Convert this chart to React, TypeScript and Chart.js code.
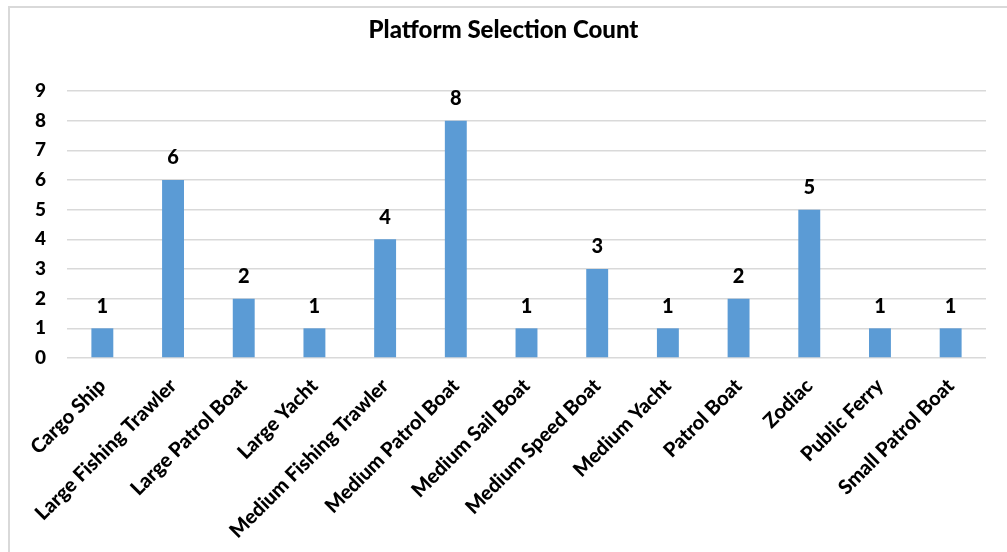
import React, { useEffect, useRef } from "react";
import { Chart, registerables } from "chart.js";

Chart.register(...registerables);

const categories = [
  "Cargo Ship",
  "Large Fishing Trawler",
  "Large Patrol Boat",
  "Large Yacht",
  "Medium Fishing Trawler",
  "Medium Patrol Boat",
  "Medium Sail Boat",
  "Medium Speed Boat",
  "Medium Yacht",
  "Patrol Boat",
  "Zodiac",
  "Public Ferry",
  "Small Patrol Boat",
];
const counts = [1, 6, 2, 1, 4, 8, 1, 3, 1, 2, 5, 1, 1];
const yTicks = [0, 1, 2, 3, 4, 5, 6, 7, 8, 9];
const titleText = "Platform Selection Count";

const FONT = "Lato, 'Open Sans', sans-serif";

export default function App() {
  const ref = useRef<HTMLCanvasElement | null>(null);

  useEffect(() => {
    if (!ref.current) return;
    const titlePlugin = {
      id: "customTitle",
      afterDraw(chart: any) {
        const ctx = chart.ctx;
        ctx.save();
        ctx.font = `900 24px ${FONT}`;
        ctx.fillStyle = "#000";
        ctx.textAlign = "center";
        ctx.textBaseline = "middle";
        ctx.fillText(titleText, chart.width / 2 - 5, 22);
        ctx.restore();
      },
    };
    const labelPlugin = {
      id: "valueLabels",
      afterDatasetsDraw(chart: any) {
        const ctx = chart.ctx;
        const meta = chart.getDatasetMeta(0);
        ctx.save();
        ctx.font = `900 20px ${FONT}`;
        ctx.fillStyle = "#000";
        ctx.textAlign = "center";
        ctx.textBaseline = "bottom";
        meta.data.forEach((el: any, i: number) => {
          ctx.fillText(String(counts[i]), el.x, el.y - 12);
        });
        ctx.restore();
      },
    };
    const chart = new Chart(ref.current, {
      type: "bar",
      data: {
        labels: categories,
        datasets: [
          {
            data: counts,
            backgroundColor: "#5B9BD5",
            borderWidth: 0,
            barPercentage: 0.31,
            categoryPercentage: 1,
          },
        ],
      },
      options: {
        animation: false,
        responsive: false,
        layout: { padding: { top: 83, right: 21, left: 0, bottom: 0 } },
        plugins: {
          legend: { display: false },
          tooltip: { enabled: false },
          title: { display: false },
        },
        scales: {
          x: {
            grid: { display: false, drawTicks: false },
            border: { display: false },
            ticks: {
              maxRotation: 45,
              minRotation: 45,
              autoSkip: false,
              padding: 16,
              color: "#000",
              font: { family: FONT, size: 20, weight: 900 },
            },
            afterFit(axis: any) {
              axis.height = 194;
            },
          },
          y: {
            min: 0,
            max: 9,
            afterBuildTicks(axis: any) {
              axis.ticks = yTicks.map((v) => ({ value: v }));
            },
            grid: { color: "#d9d9d9", lineWidth: 1.5, drawTicks: false },
            border: { display: false },
            ticks: {
              padding: 21,
              color: "#000",
              font: { family: FONT, size: 19, weight: 900 },
            },
            afterFit(axis: any) {
              axis.width = 57;
            },
          },
        },
      },
      plugins: [titlePlugin, labelPlugin],
    });
    return () => chart.destroy();
  }, []);

  return (
    <div
      style={{
        position: "absolute",
        left: 8,
        top: 6,
        width: 997,
        height: 546,
        borderLeft: "2px solid #d9d9d9",
        borderTop: "2px solid #d9d9d9",
        background: "#fff",
        overflow: "hidden",
      }}
    >
      <canvas ref={ref} width={997} height={544} style={{ display: "block" }} />
    </div>
  );
}
